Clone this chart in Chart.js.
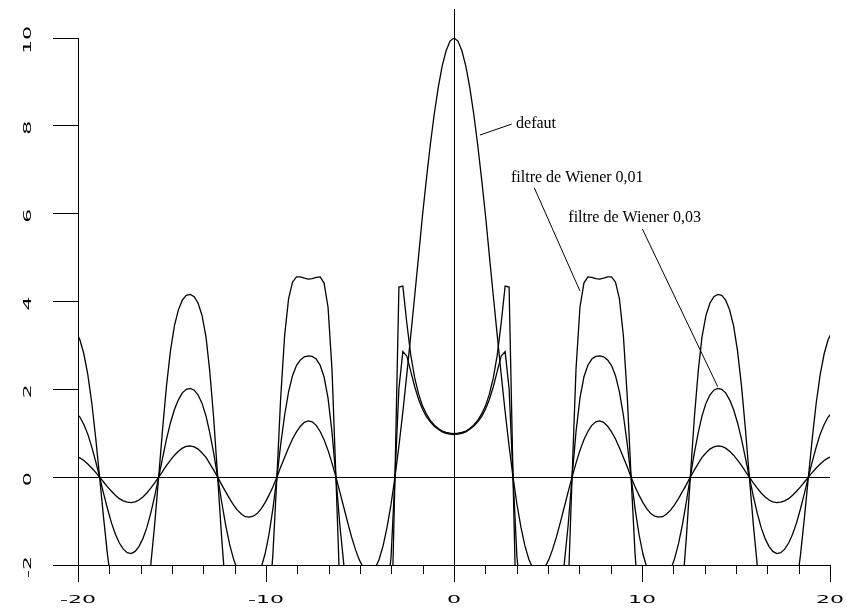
<!DOCTYPE html>
<html>
<head>
<meta charset="utf-8">
<title>defaut / filtre de Wiener</title>
<script src="https://cdn.jsdelivr.net/npm/chart.js@4.4.1/dist/chart.umd.min.js"></script>
<style>
  html, body { margin: 0; padding: 0; background: #fff; }
  canvas { display: block; }
</style>
</head>
<body>
<canvas id="chart" width="855" height="611"></canvas>
<script>
// sample positions (x) and the three curves
const xValues = [
  -20.11, -19.90, -19.69, -19.48, -19.27, -19.06, -18.85, -18.64, -18.43, -18.22,
  -18.01, -17.80, -17.59, -17.38, -17.17, -16.96, -16.76, -16.55, -16.34, -16.13,
  -15.92, -15.71, -15.50, -15.29, -15.08, -14.87, -14.66, -14.45, -14.24, -14.03,
  -13.82, -13.61, -13.40, -13.19, -12.99, -12.78, -12.57, -12.36, -12.15, -11.94,
  -11.73, -11.52, -11.31, -11.10, -10.89, -10.68, -10.47, -10.26, -10.05, -9.84,
  -9.63, -9.42, -9.22, -9.01, -8.80, -8.59, -8.38, -8.17, -7.96, -7.75,
  -7.54, -7.33, -7.12, -6.91, -6.70, -6.49, -6.28, -6.07, -5.86, -5.65,
  -5.45, -5.24, -5.03, -4.82, -4.61, -4.40, -4.19, -3.98, -3.77, -3.56,
  -3.35, -3.14, -2.93, -2.72, -2.51, -2.30, -2.09, -1.88, -1.68, -1.47,
  -1.26, -1.05, -0.84, -0.63, -0.42, -0.21,
  0,
  0.21, 0.42, 0.63, 0.84, 1.05, 1.26, 1.47, 1.68, 1.88, 2.09,
  2.30, 2.51, 2.72, 2.93, 3.14, 3.35, 3.56, 3.77, 3.98, 4.19,
  4.40, 4.61, 4.82, 5.03, 5.24, 5.45, 5.65, 5.86, 6.07, 6.28,
  6.49, 6.70, 6.91, 7.12, 7.33, 7.54, 7.75, 7.96, 8.17, 8.38,
  8.59, 8.80, 9.01, 9.22, 9.42, 9.63, 9.84, 10.05, 10.26, 10.47,
  10.68, 10.89, 11.10, 11.31, 11.52, 11.73, 11.94, 12.15, 12.36, 12.57,
  12.78, 12.99, 13.19, 13.40, 13.61, 13.82, 14.03, 14.24, 14.45, 14.66,
  14.87, 15.08, 15.29, 15.50, 15.71, 15.92, 16.13, 16.34, 16.55, 16.76,
  16.96, 17.17, 17.38, 17.59, 17.80, 18.01, 18.22, 18.43, 18.64, 18.85,
  19.06, 19.27, 19.48, 19.69, 19.90, 20.11
];

const defaut = [
  0.47, 0.44, 0.38, 0.30, 0.21, 0.11, 0, -0.11, -0.22, -0.32,
  -0.41, -0.49, -0.54, -0.57, -0.58, -0.56, -0.52, -0.45, -0.36, -0.25,
  -0.13, 0, 0.13, 0.27, 0.39, 0.50, 0.59, 0.66, 0.70, 0.71,
  0.69, 0.64, 0.55, 0.45, 0.31, 0.16, 0, -0.17, -0.33, -0.49,
  -0.63, -0.75, -0.84, -0.90, -0.91, -0.89, -0.83, -0.72, -0.58, -0.41,
  -0.22, 0, 0.23, 0.45, 0.67, 0.87, 1.03, 1.16, 1.25, 1.28,
  1.26, 1.18, 1.04, 0.85, 0.61, 0.32, 0, -0.34, -0.69, -1.04,
  -1.36, -1.65, -1.89, -2.06, -2.16, -2.16, -2.07, -1.87, -1.56, -1.14,
  -0.62, 0, 0.71, 1.49, 2.34, 3.23, 4.13, 5.05, 5.94, 6.78,
  7.57, 8.27, 8.87, 9.36, 9.71, 9.93,
  10,
  9.93, 9.71, 9.36, 8.87, 8.27, 7.57, 6.78, 5.94, 5.05, 4.13,
  3.23, 2.34, 1.49, 0.71, 0, -0.62, -1.14, -1.56, -1.87, -2.07,
  -2.16, -2.16, -2.06, -1.89, -1.65, -1.36, -1.04, -0.69, -0.34, 0,
  0.32, 0.61, 0.85, 1.04, 1.18, 1.26, 1.28, 1.25, 1.16, 1.03,
  0.87, 0.67, 0.45, 0.23, 0, -0.22, -0.41, -0.58, -0.72, -0.83,
  -0.89, -0.91, -0.90, -0.84, -0.75, -0.63, -0.49, -0.33, -0.17, 0,
  0.16, 0.31, 0.45, 0.55, 0.64, 0.69, 0.71, 0.70, 0.66, 0.59,
  0.50, 0.39, 0.27, 0.13, 0, -0.13, -0.25, -0.36, -0.45, -0.52,
  -0.56, -0.58, -0.57, -0.54, -0.49, -0.41, -0.32, -0.22, -0.11, 0,
  0.11, 0.21, 0.30, 0.38, 0.44, 0.47
];

const wiener001 = [
  3.32, 3.13, 2.81, 2.34, 1.70, 0.90, 0, -0.92, -1.77, -2.47,
  -3.01, -3.39, -3.62, -3.75, -3.77, -3.70, -3.52, -3.20, -2.71, -2.00,
  -1.07, 0, 1.10, 2.09, 2.88, 3.45, 3.81, 4.03, 4.14, 4.16,
  4.11, 3.96, 3.68, 3.19, 2.41, 1.33, 0, -1.37, -2.55, -3.41,
  -3.96, -4.26, -4.41, -4.47, -4.49, -4.47, -4.39, -4.20, -3.79, -3.01,
  -1.73, 0, 1.80, 3.22, 4.06, 4.44, 4.56, 4.56, 4.53, 4.51,
  4.52, 4.55, 4.56, 4.42, 3.87, 2.46, 0, -2.60, -4.13, -4.56,
  -4.46, -4.20, -3.96, -3.78, -3.68, -3.68, -3.78, -3.98, -4.29, -4.56,
  -3.91, 0, 4.33, 4.35, 3.51, 2.78, 2.26, 1.89, 1.63, 1.44,
  1.29, 1.19, 1.11, 1.05, 1.02, 1.00,
  0.99,
  1.00, 1.02, 1.05, 1.11, 1.19, 1.29, 1.44, 1.63, 1.89, 2.26,
  2.78, 3.51, 4.35, 4.33, 0, -3.91, -4.56, -4.29, -3.98, -3.78,
  -3.68, -3.68, -3.78, -3.96, -4.20, -4.46, -4.56, -4.13, -2.60, 0,
  2.46, 3.87, 4.42, 4.56, 4.55, 4.52, 4.51, 4.53, 4.56, 4.56,
  4.44, 4.06, 3.22, 1.80, 0, -1.73, -3.01, -3.79, -4.20, -4.39,
  -4.47, -4.49, -4.47, -4.41, -4.26, -3.96, -3.41, -2.55, -1.37, 0,
  1.33, 2.41, 3.19, 3.68, 3.96, 4.11, 4.16, 4.14, 4.03, 3.81,
  3.45, 2.88, 2.09, 1.10, 0, -1.07, -2.00, -2.71, -3.20, -3.52,
  -3.70, -3.77, -3.75, -3.62, -3.39, -3.01, -2.47, -1.77, -0.92, 0,
  0.90, 1.70, 2.34, 2.81, 3.13, 3.32
];

const wiener003 = [
  1.47, 1.37, 1.20, 0.98, 0.69, 0.36, 0, -0.37, -0.72, -1.04,
  -1.30, -1.50, -1.64, -1.72, -1.74, -1.69, -1.58, -1.40, -1.15, -0.82,
  -0.43, 0, 0.44, 0.87, 1.24, 1.54, 1.76, 1.92, 2.00, 2.02,
  1.98, 1.87, 1.68, 1.39, 1.01, 0.54, 0, -0.56, -1.08, -1.52,
  -1.86, -2.11, -2.27, -2.36, -2.38, -2.35, -2.25, -2.06, -1.75, -1.30,
  -0.71, 0, 0.74, 1.41, 1.94, 2.31, 2.54, 2.67, 2.74, 2.76,
  2.75, 2.69, 2.55, 2.28, 1.80, 1.03, 0, -1.10, -1.99, -2.55,
  -2.81, -2.88, -2.88, -2.84, -2.82, -2.82, -2.84, -2.88, -2.87, -2.65,
  -1.83, 0, 2.02, 2.86, 2.76, 2.41, 2.06, 1.77, 1.55, 1.38,
  1.26, 1.16, 1.09, 1.03, 1.00, 0.98,
  0.97,
  0.98, 1.00, 1.03, 1.09, 1.16, 1.26, 1.38, 1.55, 1.77, 2.06,
  2.41, 2.76, 2.86, 2.02, 0, -1.83, -2.65, -2.87, -2.88, -2.84,
  -2.82, -2.82, -2.84, -2.88, -2.88, -2.81, -2.55, -1.99, -1.10, 0,
  1.03, 1.80, 2.28, 2.55, 2.69, 2.75, 2.76, 2.74, 2.67, 2.54,
  2.31, 1.94, 1.41, 0.74, 0, -0.71, -1.30, -1.75, -2.06, -2.25,
  -2.35, -2.38, -2.36, -2.27, -2.11, -1.86, -1.52, -1.08, -0.56, 0,
  0.54, 1.01, 1.39, 1.68, 1.87, 1.98, 2.02, 2.00, 1.92, 1.76,
  1.54, 1.24, 0.87, 0.44, 0, -0.43, -0.82, -1.15, -1.40, -1.58,
  -1.69, -1.74, -1.72, -1.64, -1.50, -1.30, -1.04, -0.72, -0.37, 0,
  0.36, 0.69, 0.98, 1.20, 1.37, 1.47
];

const seriesNames = ['defaut', 'filtre de Wiener 0,01', 'filtre de Wiener 0,03'];
const xTickLabels = ['-20', '-10', '0', '10', '20'];
const yTickLabels = ['-2', '0', '2', '4', '6', '8', '10'];
const xMinorTicks = [-18.33, -16.67, -15, -13.33, -11.67, -8.33, -6.67, -5, -3.33, -1.67,
                     1.67, 3.33, 5, 6.67, 8.33, 11.67, 13.33, 15, 16.67, 18.33];

// label text position, leader line start and end (data units)
const notes = [
  { text: seriesNames[0], at: [3.30, 7.95], from: [3.07, 8.04], to: [1.38, 7.79] },
  { text: seriesNames[1], at: [3.03, 6.72], from: [4.27, 6.59], to: [6.70, 4.24] },
  { text: seriesNames[2], at: [6.08, 5.80], from: [10.02, 5.65], to: [14.03, 2.06] }
];

const toPoints = ys => xValues.map((x, i) => ({ x: x, y: ys[i] }));

function curve(label, ys) {
  return {
    label: label,
    data: toPoints(ys),
    borderColor: '#000',
    borderWidth: 1.3,
    pointRadius: 0,
    tension: 0,
    fill: false
  };
}

// zero lines, minor ticks, stretched tick labels and the curve captions
const decorations = {
  id: 'decorations',
  beforeDatasetsDraw(chart) {
    const { ctx, chartArea: a, scales: { x, y } } = chart;
    ctx.save();
    ctx.strokeStyle = '#000';
    ctx.lineWidth = 1;
    const y0 = Math.round(y.getPixelForValue(0)) + 0.5;
    const x0 = Math.round(x.getPixelForValue(0)) + 0.5;
    ctx.beginPath();
    ctx.moveTo(a.left, y0);
    ctx.lineTo(a.right, y0);
    ctx.moveTo(x0, Math.round(y.getPixelForValue(10.66)));
    ctx.lineTo(x0, a.bottom);
    ctx.stroke();
    ctx.restore();
  },
  afterDraw(chart) {
    const { ctx, chartArea: a, scales: { x, y } } = chart;
    ctx.save();
    ctx.strokeStyle = '#000';
    ctx.fillStyle = '#000';
    ctx.lineWidth = 1;

    // minor ticks on the x axis
    ctx.beginPath();
    xMinorTicks.forEach(v => {
      const px = Math.round(x.getPixelForValue(v)) + 0.5;
      ctx.moveTo(px, a.bottom);
      ctx.lineTo(px, a.bottom + 9);
    });
    ctx.stroke();

    // tick labels, wide plotter-like lettering
    ctx.font = '10px "DejaVu Sans"';
    ctx.textAlign = 'center';
    ctx.textBaseline = 'middle';
    xTickLabels.forEach(t => {
      ctx.save();
      ctx.translate(x.getPixelForValue(Number(t)), a.bottom + 35);
      ctx.scale(2.2, 1);
      ctx.fillText(t, 0, 0);
      ctx.restore();
    });
    yTickLabels.forEach(t => {
      ctx.save();
      ctx.translate(28, y.getPixelForValue(Number(t)) + 2);
      ctx.rotate(-Math.PI / 2);
      ctx.scale(2.2, 1);
      ctx.fillText(t, 0, 0);
      ctx.restore();
    });

    // captions with leader lines
    ctx.font = '16px "Liberation Serif"';
    ctx.textAlign = 'left';
    ctx.textBaseline = 'alphabetic';
    notes.forEach(n => {
      ctx.fillText(n.text, x.getPixelForValue(n.at[0]), y.getPixelForValue(n.at[1]));
      ctx.beginPath();
      ctx.moveTo(x.getPixelForValue(n.from[0]), y.getPixelForValue(n.from[1]));
      ctx.lineTo(x.getPixelForValue(n.to[0]), y.getPixelForValue(n.to[1]));
      ctx.stroke();
    });
    ctx.restore();
  }
};

new Chart(document.getElementById('chart'), {
  type: 'line',
  data: {
    datasets: [
      curve(seriesNames[0], defaut),
      curve(seriesNames[1], wiener001),
      curve(seriesNames[2], wiener003)
    ]
  },
  options: {
    responsive: false,
    animation: false,
    events: [],
    layout: { padding: { top: 38, right: 25, left: 0, bottom: 0 } },
    plugins: {
      legend: { display: false },
      tooltip: { enabled: false }
    },
    scales: {
      x: {
        type: 'linear',
        min: -20,
        max: 20,
        ticks: { display: false, stepSize: 10 },
        grid: { drawOnChartArea: false, drawTicks: true, tickLength: 17, color: '#000', lineWidth: 1 },
        border: { display: true, color: '#000', width: 1 },
        afterFit(scale) { scale.height = 46; }
      },
      y: {
        type: 'linear',
        min: -2,
        max: 10,
        ticks: { display: false, stepSize: 2 },
        grid: { drawOnChartArea: false, drawTicks: true, tickLength: 25, color: '#000', lineWidth: 1 },
        border: { display: true, color: '#000', width: 1 },
        afterFit(scale) { scale.width = 78; }
      }
    }
  },
  plugins: [decorations]
});
</script>
</body>
</html>
